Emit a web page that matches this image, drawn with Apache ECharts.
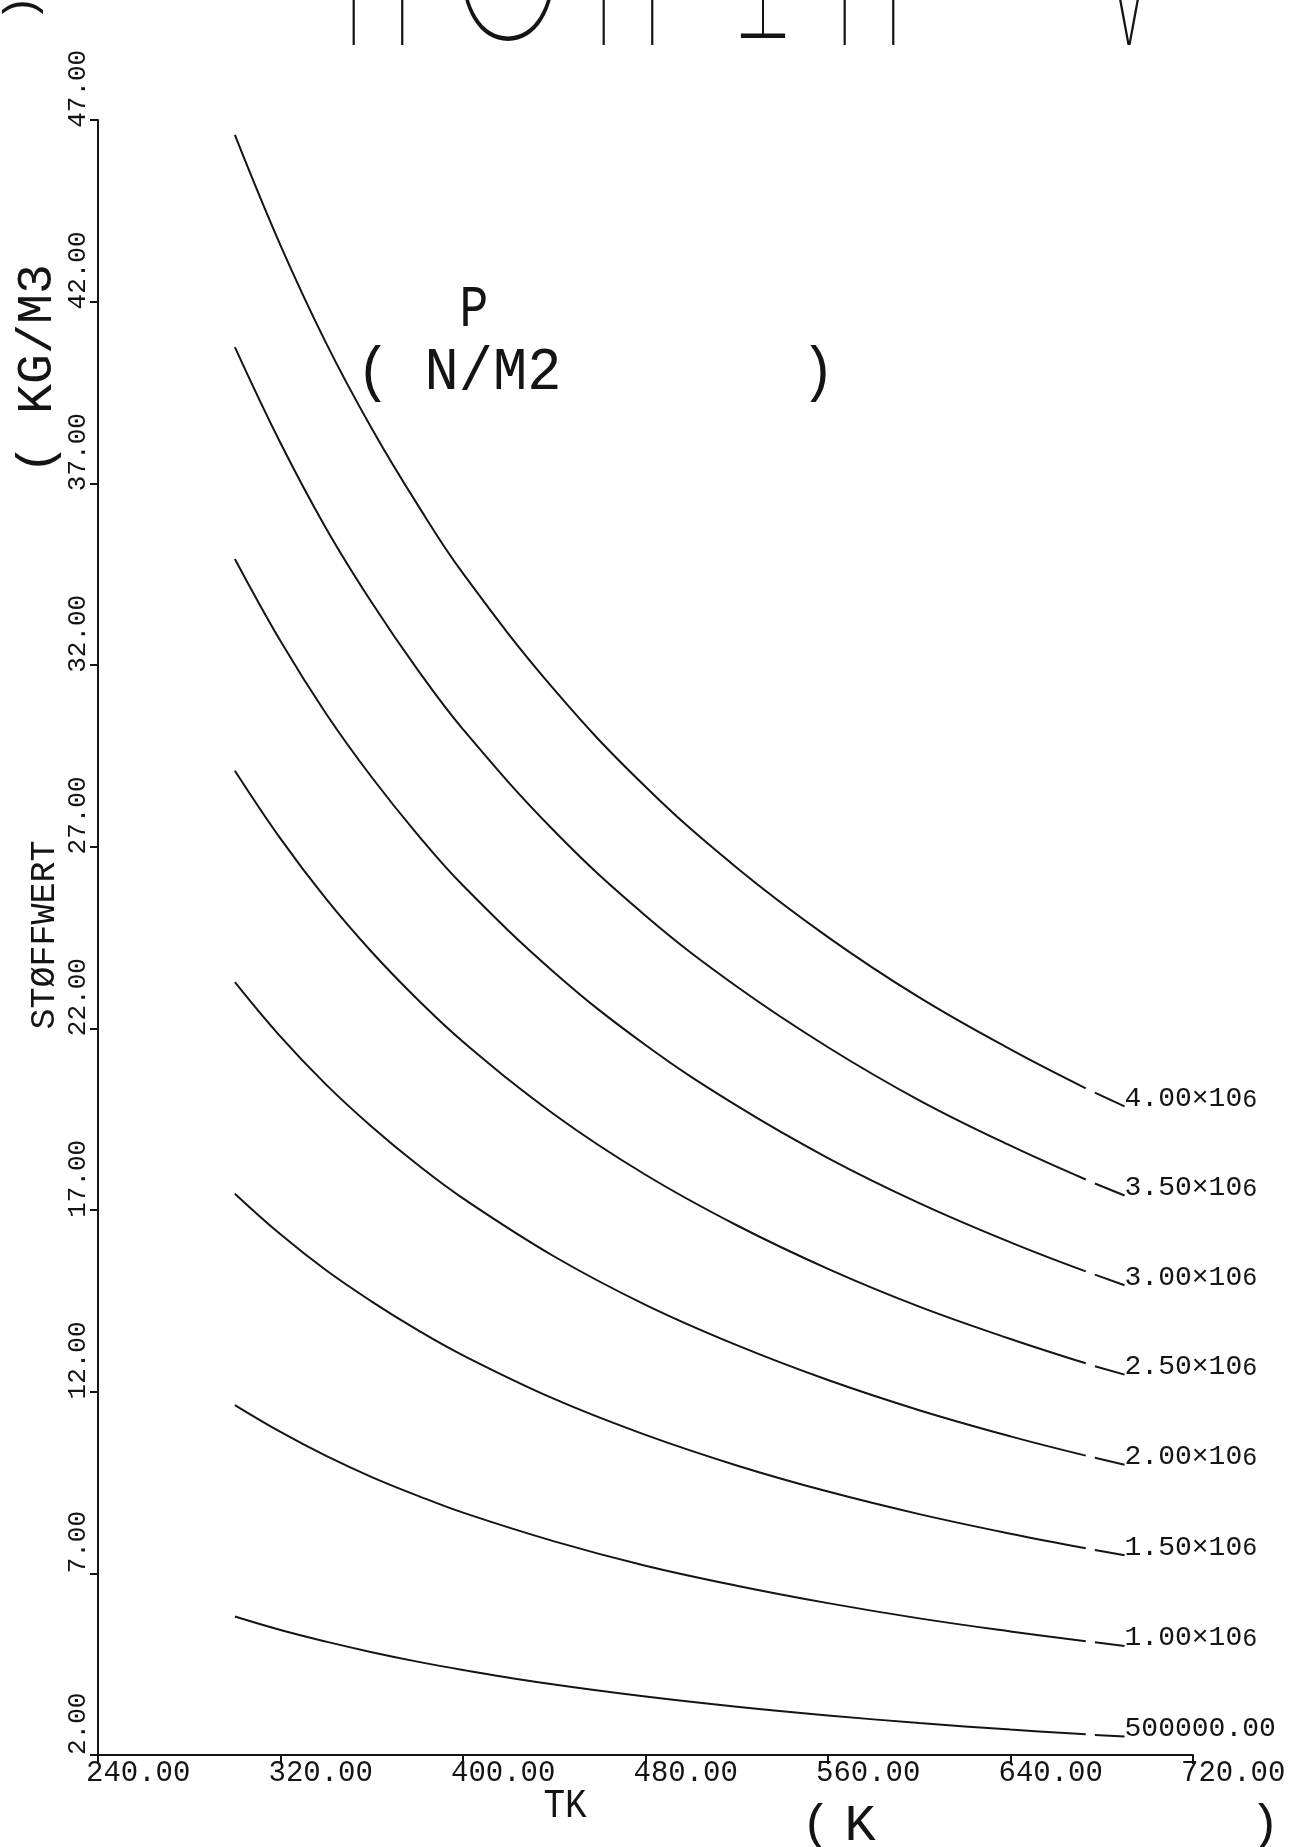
<!DOCTYPE html>
<html>
<head>
<meta charset="utf-8">
<script src="https://cdn.jsdelivr.net/npm/echarts@6/dist/echarts.min.js"></script>
<style>
  html, body { margin: 0; padding: 0; background: #fff; }
  #chart { width: 1302px; height: 1847px; }
</style>
</head>
<body>
<div id="chart"></div>
<script>
// Density of air (kg/m3) over temperature (K), one isobar per pressure level.
const tempK = [300, 320, 340, 360, 380, 400, 440, 480, 520, 560, 600, 640, 673];

const rhoP4000 = [46.59, 43.55, 40.86, 38.51, 36.42, 34.52, 31.32, 28.65, 26.42, 24.51, 22.85, 21.42, 20.35];
const rhoP3500 = [40.75, 38.11, 35.76, 33.72, 31.88, 30.23, 27.43, 25.10, 23.15, 21.48, 20.02, 18.77, 17.84];
const rhoP3000 = [34.92, 32.66, 30.66, 28.91, 27.34, 25.93, 23.54, 21.54, 19.87, 18.43, 17.19, 16.11, 15.31];
const rhoP2500 = [29.09, 27.22, 25.56, 24.10, 22.80, 21.63, 19.63, 17.97, 16.58, 15.38, 14.34, 13.45, 12.78];
const rhoP2000 = [23.27, 21.77, 20.45, 19.29, 18.25, 17.32, 15.72, 14.39, 13.28, 12.32, 11.49, 10.77, 10.24];
const rhoP1500 = [17.45, 16.33, 15.34, 14.48, 13.70, 13.00, 11.80, 10.81, 9.97, 9.25, 8.63, 8.09, 7.69];
const rhoP1000 = [11.63, 10.89, 10.23, 9.65, 9.14, 8.67, 7.88, 7.21, 6.66, 6.18, 5.76, 5.40, 5.13];
const rhoP500  = [5.81, 5.44, 5.12, 4.83, 4.57, 4.34, 3.94, 3.61, 3.33, 3.09, 2.88, 2.70, 2.57];

// short end piece of each isobar that leads into its pressure label
const tailK = [677, 690];
const tailP4000 = [20.23, 19.85];
const tailP3500 = [17.73, 17.40];
const tailP3000 = [15.22, 14.93];
const tailP2500 = [12.70, 12.47];
const tailP2000 = [10.18, 9.99];
const tailP1500 = [7.64, 7.50];
const tailP1000 = [5.10, 5.00];
const tailP500  = [2.55, 2.51];

const pressureText = ['4.00\u00D710', '3.50\u00D710', '3.00\u00D710', '2.50\u00D710',
                      '2.00\u00D710', '1.50\u00D710', '1.00\u00D710', '500000.00'];
const pressureExp  = ['6', '6', '6', '6', '6', '6', '6', ''];

const xTicks = [240, 320, 400, 480, 560, 640, 720];
const yTicks = [2, 7, 12, 17, 22, 27, 32, 37, 42, 47];

const INK = '#141414';
const MONO = '"Liberation Mono", "DejaVu Sans Mono", monospace';

const isobars = [
  [rhoP4000, tailP4000], [rhoP3500, tailP3500], [rhoP3000, tailP3000], [rhoP2500, tailP2500],
  [rhoP2000, tailP2000], [rhoP1500, tailP1500], [rhoP1000, tailP1000], [rhoP500, tailP500]
];

const series = [];
isobars.forEach(([rho, tail], k) => {
  series.push({
    type: 'line',
    data: tempK.map((t, i) => [t, rho[i]]),
    smooth: 0.4,
    symbol: 'none',
    silent: true,
    lineStyle: { color: INK, width: 2 }
  });
  series.push({
    type: 'line',
    data: tailK.map((t, i) => [t, tail[i]]),
    symbol: 'none',
    silent: true,
    lineStyle: { color: INK, width: 2 },
    endLabel: {
      show: true,
      distance: 0,
      align: 'left',
      verticalAlign: 'bottom',
      offset: [0, 6],
      formatter: () => pressureExp[k]
        ? '{m|' + pressureText[k] + '}{e|' + pressureExp[k] + '}'
        : '{m|' + pressureText[k] + '}',
      rich: {
        m: { fontFamily: MONO, fontSize: 28, color: INK, verticalAlign: 'bottom' },
        e: { fontFamily: MONO, fontSize: 25, color: INK, verticalAlign: 'bottom' }
      }
    }
  });
});

function plotText(props) {
  const s = props.style;
  s.fill = INK;
  s.align = s.align || 'center';
  s.textAlign = s.align;
  s.verticalAlign = s.verticalAlign || 'middle';
  s.textVerticalAlign = s.verticalAlign;
  return Object.assign({ type: 'text', silent: true }, props);
}

// large heading, only its lower edge falls inside the sheet
const HEAD_SIZE = 200;
const THIN = '100 ' + HEAD_SIZE + 'px Inter, "Lato Hairline", Lato, "Noto Sans", sans-serif';
const headY = 41 - 0.283 * HEAD_SIZE;
const graphics = [
  plotText({ x: 378, y: headY, scaleX: 0.5, style: { text: 'H', font: THIN } }),
  plotText({ x: 508, y: headY - 6, scaleX: 0.78, style: { text: 'O', font: THIN } }),
  plotText({ x: 628, y: headY, scaleX: 0.5, style: { text: 'H', font: THIN } }),
  plotText({ x: 763, y: 41 - 0.444 * HEAD_SIZE, rotation: Math.PI, scaleX: 0.45,
    style: { text: 'T', font: THIN } }),
  plotText({ x: 869, y: headY, scaleX: 0.5, style: { text: 'H', font: THIN } }),
  plotText({ x: 1129, y: headY, scaleX: 0.5, style: { text: 'V', font: THIN } })
];

graphics.push(
  // y axis name and unit (rotated)
  plotText({ x: 45, y: 935, rotation: Math.PI / 2,
    style: { text: 'ST\u00D8FFWERT', font: '35px ' + MONO } }),
  plotText({ x: 38, y: 474, rotation: Math.PI / 2,
    style: { text: '( KG/M3', font: '50px ' + MONO, align: 'left' } }),
  plotText({ x: 22, y: 8, rotation: Math.PI / 2,
    style: { text: ')', font: '44px ' + MONO } }),
  // x axis name and unit
  plotText({ x: 565, y: 1806, scaleX: 0.9,
    style: { text: 'TK', font: '40px ' + MONO } }),
  plotText({ x: 816, y: 1826, style: { text: '(', font: '50px ' + MONO } }),
  plotText({ x: 860, y: 1826, style: { text: 'K', font: '52px ' + MONO } }),
  plotText({ x: 1265, y: 1826, style: { text: ')', font: '50px ' + MONO } }),
  // parameter name and unit
  plotText({ x: 474, y: 310, scaleX: 0.8,
    style: { text: 'P', font: '60px ' + MONO } }),
  plotText({ x: 356, y: 373, scaleX: 0.92,
    style: { text: '( N/M2       )', font: '62px ' + MONO, align: 'left' } })
);

const chart = echarts.init(document.getElementById('chart'), null, { renderer: 'canvas' });
chart.setOption({
  animation: false,
  backgroundColor: '#ffffff',
  grid: { left: 98, right: 109, top: 120, bottom: 92, containLabel: false, outerBoundsMode: 'none' },
  xAxis: {
    type: 'value',
    min: 240, max: 720, interval: 80,
    axisLine: { show: true, onZero: false, lineStyle: { color: INK, width: 2 } },
    axisTick: { show: true, length: 9, customValues: xTicks, lineStyle: { color: INK, width: 2 } },
    axisLabel: {
      customValues: xTicks,
      showMinLabel: true, showMaxLabel: true,
      hideOverlap: false,
      align: 'left',
      padding: [0, 0, 0, -12],
      formatter: v => Number(v).toFixed(2),
      fontFamily: MONO, fontSize: 29, color: INK, margin: 4
    },
    splitLine: { show: false }
  },
  yAxis: {
    type: 'value',
    min: 2, max: 47,
    axisLine: { show: true, onZero: false, lineStyle: { color: INK, width: 2 } },
    axisTick: { show: true, length: 8, customValues: yTicks, lineStyle: { color: INK, width: 2 } },
    axisLabel: {
      customValues: yTicks,
      showMinLabel: true, showMaxLabel: true,
      rotate: 90,
      formatter: v => '    ' + Number(v).toFixed(2),
      fontFamily: MONO, fontSize: 26, color: INK, margin: 7
    },
    splitLine: { show: false }
  },
  series: series,
  graphic: { elements: graphics }
});
</script>
</body>
</html>
